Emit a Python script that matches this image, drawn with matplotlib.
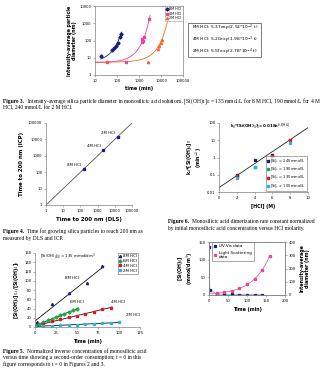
import numpy as np
import matplotlib
matplotlib.use("Agg")
import matplotlib.pyplot as plt
from matplotlib.patches import Rectangle
from matplotlib.ticker import FixedLocator, FixedFormatter, NullLocator

W, H = 330, 375
plt.rcParams['font.family'] = ['DejaVu Sans']
plt.rcParams['mathtext.fontset'] = 'dejavusans'

# ---------------- data ----------------
# Figure 3: particle diameter vs time
f3_t_8M = [18, 60, 70, 90, 110, 130, 150]
f3_d_8M = [12, 30, 35, 50, 70, 150, 250]
f3_t_4M = [35, 250, 1300, 1400, 1500, 1700, 3000]
f3_d_4M = [6, 6, 80, 120, 100, 160, 1700]
f3_t_2M = [2700, 7300, 8500, 10000, 11500]
f3_d_2M = [5.5, 32, 45, 70, 110]
f3_fit_a = [5.37, 5.20, 5.57]
f3_fit_k = [2.53e-2, 1.98e-3, 2.78e-4]
f3_fit_tmax = [160, 3200, 1e5]
f3_labels = ["8M HCl", "4M HCl", "2M HCl"]

# Figure 4: time to 200 nm, DLS vs ICP
f4_dls = [156, 2150, 15600]
f4_icp = [147, 2150, 14000]
f4_labels = ["8M HCl", "4M HCl", "2M HCl"]

# Figure 5: normalized inverse concentration vs time
f5_t_8M = [2, 20, 40, 62, 80]
f5_y_8M = [10, 50, 73, 95, 131]
f5_t_6M = [0, 5, 10, 15, 20, 25, 30, 35, 40, 45, 50]
f5_y_6M = [2, 6, 11, 15, 17, 22, 25, 28, 33, 36, 38]
f5_t_4M = [0, 10, 20, 30, 40, 50, 60, 70, 80, 90]
f5_y_4M = [1, 6, 13, 18, 21, 24, 28, 33, 38, 42]
f5_t_2M = [0, 10, 20, 30, 40, 50, 60, 70, 80, 90, 100]
f5_y_2M = [1, 2, 3, 4, 5, 5, 6, 7, 8, 9, 10]

# Figure 6: normalized dimerization rate constant vs HCl
f6_hcl = [2, 4, 6, 8]
f6_240 = [0.10, 0.70, 1.4, None]
f6_190 = [0.08, 0.30, 0.9, None]
f6_135 = [0.09, None, 1.2, 10.0]
f6_100 = [0.065, 0.30, 0.75, 6.5]
f6_a, f6_b = 0.018, 0.8

# Figure 7: concentration and particle size vs time
f7_t_uv = [0, 2, 20, 40, 60, 80, 100, 120, 140]
f7_c_uv = [135, 15, 3, 2, 1.5, 1.2, 1, 1, 1]
f7_t_ls = [20, 40, 60, 80, 100, 120, 140, 160]
f7_d_ls = [13, 20, 32, 50, 80, 120, 190, 295]

# ---------------- styling ----------------
NAVY = '#1b1f7a'
PINK = '#e8449a'
ORANGE = '#f26a2a'
GREEN = '#22a84a'
RED = '#e8141c'
CYAN = '#22b8e6'
AX = '#808080'
TICK = 2.7
LAB = 3.4
CAP = 4.0


def rect(l, t, r, b):
    return [l / W, 1 - b / H, (r - l) / W, (b - t) / H]


def fx(x):
    return x / W


def fy(y):
    return 1 - y / H


def style(ax, box=False):
    for s in ['left', 'bottom', 'top', 'right']:
        ax.spines[s].set_color(AX)
        ax.spines[s].set_linewidth(0.5)
        if not box and s in ('top', 'right'):
            ax.spines[s].set_visible(False)
    ax.tick_params(labelsize=TICK, length=1.5, width=0.4, color=AX, pad=1.2)
    ax.set_facecolor('none')


def set_ticks(ax, axis, vals, labels):
    a = ax.xaxis if axis == 'x' else ax.yaxis
    a.set_major_locator(FixedLocator(vals))
    a.set_major_formatter(FixedFormatter(labels))
    a.set_minor_locator(NullLocator())


fig = plt.figure(figsize=(W / 100, H / 100), dpi=100)
renderer = fig.canvas.get_renderer()


def caption(x, y, head, lines, step=6.6):
    h = fig.text(fx(x), fy(y), head, fontsize=CAP, fontweight='bold',
                 family='Liberation Serif', va='baseline')
    x_after = h.get_window_extent(renderer).x1 + 3
    for i, ln in enumerate(lines):
        if i == 0:
            fig.text(x_after / W, fy(y), ln, fontsize=CAP,
                     family='Liberation Serif', va='baseline')
        else:
            fig.text(fx(x), fy(y + i * step), ln, fontsize=CAP,
                     family='Liberation Serif', va='baseline')


# ---------------- Figure 3 ----------------
ax3 = fig.add_axes(rect(95, 6, 183, 75))
style(ax3, box=True)
ax3.set_xscale('log')
ax3.set_yscale('log')
ax3.set_xlim(10, 1e5)
ax3.set_ylim(1, 1e4)
set_ticks(ax3, 'x', [10, 100, 1000, 10000, 100000],
          ['10', '100', '1000', '10000', '100000'])
set_ticks(ax3, 'y', [1, 10, 100, 1000, 10000],
          ['1', '10', '100', '1000', '10000'])
cols3 = [NAVY, PINK, ORANGE]
marks3 = ['D', 's', '^']
tstart = [18, 10, 10]
for (tt, dd), c, m, lab, a, k, t0, t1 in zip(
        [(f3_t_8M, f3_d_8M), (f3_t_4M, f3_d_4M), (f3_t_2M, f3_d_2M)],
        cols3, marks3, f3_labels, f3_fit_a, f3_fit_k, tstart, f3_fit_tmax):
    tf = np.logspace(np.log10(t0), np.log10(t1), 200)
    ax3.plot(tf, a * np.exp(k * tf), color=c, lw=0.6)
    ax3.plot(tt, dd, m, color=c, ms=1.6, ls='none', label=lab)
ax3.set_xlabel('time (min)', fontsize=LAB, fontweight='bold', labelpad=2)
ax3.set_ylabel('intensity-average particle\ndiameter (nm)', fontsize=LAB,
               fontweight='bold', labelpad=2, linespacing=1.0)
leg3 = ax3.legend(loc='upper right', fontsize=2.4, handlelength=0.6,
                  handletextpad=0.3, borderpad=0.3, labelspacing=0.15,
                  borderaxespad=0.1, frameon=True, fancybox=False,
                  markerscale=1.0)
leg3.get_frame().set_edgecolor(AX)
leg3.get_frame().set_linewidth(0.4)

fig.patches.append(Rectangle((fx(188), fy(57)), fx(261) - fx(188),
                             fy(23) - fy(57), transform=fig.transFigure,
                             fill=False, edgecolor='#444444', lw=0.5))
eq3 = [r'8M HCl: 5.37exp(2.53*10$^{-2}$ t)',
       r'4M HCl: 5.20exp(1.98*10$^{-3}$ t)',
       r'2M HCl: 5.57exp(2.78*10$^{-4}$ t)']
for i, s in enumerate(eq3):
    fig.text(fx(191.5), fy(28 + i * 11.8), s, fontsize=3.15, va='center')

caption(3, 103, 'Figure 3.',
        ['Intensity-average silica particle diameter in monosilicic acid solutions. '
         '[Si(OH)$_4$]$_0$ = 135 mmol/L for 8 M HCl, 190 mmol/L for 4 M',
         'HCl, 240 mmol/L for 2 M HCl.'])

# ---------------- Figure 4 ----------------
ax4 = fig.add_axes(rect(46, 123, 132, 205))
style(ax4)
ax4.set_xscale('log')
ax4.set_yscale('log')
ax4.set_xlim(1, 1e5)
ax4.set_ylim(1, 1e5)
dec = [1, 10, 100, 1000, 10000, 100000]
declab = ['1', '10', '100', '1000', '10000', '100000']
set_ticks(ax4, 'x', dec, declab)
set_ticks(ax4, 'y', dec, declab)
ax4.plot([1, 1e5], [1, 1e5], color='#555555', lw=0.6)
ax4.plot(f4_dls, f4_icp, 's', color=NAVY, ms=1.6)
for x, y, lab in zip(f4_dls, f4_icp, f4_labels):
    ax4.annotate(lab, (x, y), xytext=(-2, 1.5), textcoords='offset points',
                 fontsize=2.8, ha='right', va='bottom')
ax4.set_xlabel('Time to 200 nm (DLS)', fontsize=3.9, fontweight='bold',
               labelpad=3)
ax4.set_ylabel('Time to 200 nm (ICP)', fontsize=3.9, fontweight='bold',
               labelpad=3)

caption(3, 233, 'Figure 4.',
        ['Time for growing silica particles to reach 200 nm as',
         'measured by DLS and ICP.'])

# ---------------- Figure 6 ----------------
ax6 = fig.add_axes(rect(219, 123, 308, 192))
style(ax6)
ax6.set_yscale('log')
ax6.set_xlim(0, 10)
ax6.set_ylim(0.01, 100)
set_ticks(ax6, 'x', [0, 2, 4, 6, 8, 10], ['0', '2', '4', '6', '8', '10'])
set_ticks(ax6, 'y', [0.01, 0.1, 1, 10, 100], ['0.01', '0.1', '1', '10', '100'])
xf = np.linspace(0, 10, 100)
ax6.plot(xf, f6_a * np.exp(f6_b * xf), color='#222222', lw=0.6)
for vals, c, lab in zip([f6_240, f6_190, f6_135, f6_100],
                        [NAVY, GREEN, RED, CYAN],
                        ['240', '190', '135', '100']):
    xs = [x for x, v in zip(f6_hcl, vals) if v is not None]
    ys = [v for v in vals if v is not None]
    ax6.plot(xs, ys, 's', color=c, ms=1.8, ls='none',
             label=r'[Si]$_0$ = ' + lab + ' mmol/L')
leg6 = ax6.legend(loc='lower right', fontsize=2.5, handlelength=0.6,
                  handletextpad=0.3, borderpad=0.35, labelspacing=0.3,
                  borderaxespad=0.3, frameon=True, fancybox=False)
leg6.get_frame().set_edgecolor('#444444')
leg6.get_frame().set_linewidth(0.4)
ax6.text(0.12, 0.95, r'k$_d$*[Si(OH)$_4$]$_0$=0.018e$^{0.8[HCl]}$',
         transform=ax6.transAxes, fontsize=2.9, fontweight='bold',
         va='center', ha='left')
ax6.set_xlabel('[HCl] (M)', fontsize=LAB, fontweight='bold', labelpad=3)
ax6.set_ylabel('k$_d$*[Si(OH)$_4$]$_0$\n(min$^{-1}$)', fontsize=LAB,
               fontweight='bold', labelpad=2, linespacing=1.0)

caption(168, 223, 'Figure 6.',
        ['Monosilicic acid dimerization rate constant normalized',
         'by initial monosilicic acid concentration versus HCl molarity.'])

# ---------------- Figure 5 ----------------
ax5 = fig.add_axes(rect(35, 253, 140, 327))
style(ax5)
ax5.set_xlim(0, 125)
ax5.set_ylim(0, 160)
set_ticks(ax5, 'x', [0, 25, 50, 75, 100, 125],
          ['0', '25', '50', '75', '100', '125'])
set_ticks(ax5, 'y', list(range(0, 161, 20)),
          [str(v) for v in range(0, 161, 20)])
series5 = [(f5_t_8M, f5_y_8M, NAVY, '^', '8M HCl'),
           (f5_t_6M, f5_y_6M, GREEN, 'D', '6M HCl'),
           (f5_t_4M, f5_y_4M, RED, 's', '4M HCl'),
           (f5_t_2M, f5_y_2M, CYAN, 's', '2M HCl')]
for tt, yy, c, m, lab in series5:
    p = np.polyfit(tt, yy, 1)
    tl = np.array([0, max(tt) + 2])
    ax5.plot(tl, np.polyval(p, tl), color='#111111', lw=0.6)
for tt, yy, c, m, lab in series5:
    ax5.plot(tt, yy, m, color=c, ms=1.6, ls='none', label=lab)
leg5 = ax5.legend(loc='upper right', fontsize=2.8, handlelength=0.6,
                  handletextpad=0.4, borderpad=0.3, labelspacing=0.2,
                  borderaxespad=0.2, frameon=True, fancybox=False,
                  bbox_to_anchor=(0.985, 1.01))
leg5.get_frame().set_edgecolor('#444444')
leg5.get_frame().set_linewidth(0.4)
for s, x, y in [('8M HCl', 44, 106), ('6M HCl', 50, 54),
                ('4M HCl', 99, 54), ('2M HCl', 117, 26)]:
    ax5.text(x, y, s, fontsize=2.8, ha='center', va='center')
ax5.text(6, 153, r'[Si(OH)$_4$]$_0$ = 135 mmol/dm$^3$', fontsize=2.8,
         va='center')
ax5.set_xlabel('Time (min)', fontsize=LAB, fontweight='bold', labelpad=3)
ax5.set_ylabel(r'[Si(OH)$_4$]$_{0,t}$/[Si(OH)$_4$]$_t$', fontsize=LAB,
               fontweight='bold', labelpad=2)

caption(3, 353, 'Figure 5.',
        ['Normalized inverse concentration of monosilicic acid',
         'versus time showing a second-order consumption; t = 0 in this',
         'figure corresponds to t = 0 in Figures 2 and 3.'], step=6.4)

# ---------------- Figure 7 ----------------
ax7 = fig.add_axes(rect(209, 242, 285, 295))
style(ax7, box=True)
ax7.set_xlim(0, 200)
ax7.set_ylim(0, 150)
set_ticks(ax7, 'x', [0, 50, 100, 150, 200], ['0', '50', '100', '150', '200'])
set_ticks(ax7, 'y', [0, 50, 100, 150], ['0', '50', '100', '150'])
ax7r = ax7.twinx()
style(ax7r, box=True)
ax7r.set_ylim(0, 400)
set_ticks(ax7r, 'y', [0, 100, 200, 300, 400], ['0', '100', '200', '300', '400'])
ax7.plot(f7_t_uv, f7_c_uv, color='#8ea6d8', lw=0.6)
l1, = ax7.plot(f7_t_uv, f7_c_uv, 's', color=NAVY, ms=1.4, ls='none',
               label='UV-Vis data')
pk = np.polyfit(f7_t_ls, np.log(f7_d_ls), 1)
tl = np.linspace(0, 160, 100)
ax7r.plot(tl, np.exp(np.polyval(pk, tl)), color=PINK, lw=0.5)
l2, = ax7r.plot(f7_t_ls, f7_d_ls, 's', color=PINK, ms=1.4, ls='none',
                label='Light Scattering\ndata')
leg7 = ax7.legend(handles=[l1, l2], loc='upper left', fontsize=3.0,
                  handlelength=0.6, handletextpad=0.8, borderpad=0.4,
                  labelspacing=0.6, borderaxespad=0.1, frameon=True,
                  fancybox=False, bbox_to_anchor=(0.03, 1.0))
leg7.get_frame().set_edgecolor('#444444')
leg7.get_frame().set_linewidth(0.4)
ax7.set_xlabel('Time (min)', fontsize=LAB, fontweight='bold', labelpad=3)
ax7.set_ylabel('[Si(OH)$_4$]\n(mmol/dm$^3$)', fontsize=LAB,
               fontweight='bold', labelpad=2, linespacing=1.0)
ax7r.set_ylabel('Intensity-average\ndiameter (nm)', fontsize=LAB,
                fontweight='bold', labelpad=3, linespacing=1.0)

fig.savefig('out.png', dpi=100)
